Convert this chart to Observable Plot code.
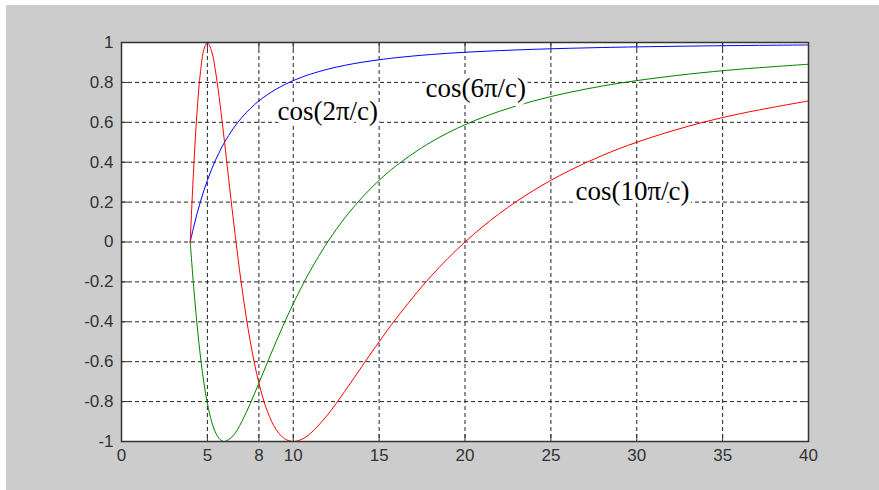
<!DOCTYPE html>
<html>
<head>
<meta charset="utf-8">
<script src="https://cdn.jsdelivr.net/npm/d3@7"></script>
<script src="https://cdn.jsdelivr.net/npm/@observablehq/plot@0.6"></script>
<style>
  html, body { margin: 0; padding: 0; background: #ffffff; }
  #chart { position: absolute; left: 6px; top: 5px; }
</style>
</head>
<body>
<div id="chart"></div>
<script>
const cValues = [4, 4.2, 4.4, 4.6, 4.8, 5, 5.25, 5.5, 5.75, 6, 6.5, 7, 7.5, 8, 8.5, 9, 9.5, 10, 10.5, 11, 12, 13, 14, 15, 16, 18, 20, 22, 24, 26, 28, 30, 33, 36, 40];
const blueValues = [0, 0.0747, 0.1423, 0.2035, 0.2588, 0.3090, 0.3653, 0.4154, 0.4601, 0.5, 0.5681, 0.6235, 0.6691, 0.7071, 0.7390, 0.7660, 0.7891, 0.8090, 0.8262, 0.8413, 0.8660, 0.8855, 0.9010, 0.9135, 0.9239, 0.9397, 0.9511, 0.9595, 0.9659, 0.9709, 0.9749, 0.9781, 0.9819, 0.9848, 0.9877];
const greenValues = [0, -0.2225, -0.4154, -0.5767, -0.7071, -0.8090, -0.9010, -0.9595, -0.9907, -1, -0.9709, -0.9010, -0.8090, -0.7071, -0.6026, -0.5, -0.4017, -0.3090, -0.2225, -0.1423, 0, 0.1205, 0.2225, 0.3090, 0.3827, 0.5, 0.5878, 0.6549, 0.7071, 0.7485, 0.7818, 0.8090, 0.8413, 0.8660, 0.8910];
const redValues = [0, 0.3653, 0.6549, 0.8544, 0.9659, 1, 0.9556, 0.8413, 0.6822, 0.5, 0.1205, -0.2225, -0.5, -0.7071, -0.8502, -0.9397, -0.9864, -1, -0.9888, -0.9595, -0.8660, -0.7485, -0.6235, -0.5, -0.3827, -0.1736, 0, 0.1423, 0.2588, 0.3546, 0.4339, 0.5, 0.5801, 0.6428, 0.7071];

const xTicks = [0, 5, 8, 10, 15, 20, 25, 30, 35, 40];
const yTicks = [-1, -0.8, -0.6, -0.4, -0.2, 0, 0.2, 0.4, 0.6, 0.8, 1];

const labelTexts = ["cos(2\u03C0/c)", "cos(6\u03C0/c)", "cos(10\u03C0/c)"];
const labelX = [9.08, 17.70, 26.43];
const labelY = [0.654, 0.769, 0.253];

const rows = cValues.map((c, i) => ({c, blue: blueValues[i], green: greenValues[i], red: redValues[i]}));
const labels = labelTexts.map((t, i) => ({t, x: labelX[i], y: labelY[i]}));

const W = 873, H = 485;
const mL = 115, mT = 37, mR = 71, mB = 49;
const innerH = H - mT - mB, innerW = W - mL - mR;
const tick = 7;
const axisColor = "#333333";
const fmt = d => String(+(+d).toFixed(1));

const plot = Plot.plot({
  width: W,
  height: H,
  marginLeft: mL,
  marginTop: mT,
  marginRight: mR,
  marginBottom: mB,
  style: {background: "#cccccc", fontFamily: "'Liberation Sans', Arial, sans-serif", color: axisColor},
  x: {domain: [0, 40], ticks: xTicks},
  y: {domain: [-1, 1], ticks: yTicks},
  marks: [
    Plot.frame({fill: "white", stroke: null}),
    Plot.gridX(xTicks, {stroke: "#222", strokeOpacity: 1, strokeDasharray: "4,3"}),
    Plot.gridY(yTicks, {stroke: "#222", strokeOpacity: 1, strokeDasharray: "4,3"}),
    Plot.ruleX(xTicks, {x: d => d, insetTop: innerH - tick, stroke: axisColor}),
    Plot.ruleX(xTicks, {x: d => d, insetBottom: innerH - tick, stroke: axisColor}),
    Plot.ruleY(yTicks, {y: d => d, insetRight: innerW - tick, stroke: axisColor}),
    Plot.ruleY(yTicks, {y: d => d, insetLeft: innerW - tick, stroke: axisColor}),
    Plot.axisX(xTicks, {tickSize: 0, tickPadding: 7, fontSize: 17, tickFormat: fmt, label: null, fill: axisColor}),
    Plot.axisY(yTicks, {tickSize: 0, tickPadding: 8, fontSize: 17, tickFormat: fmt, label: null, fill: axisColor}),
    Plot.line(rows, {x: "c", y: "blue", stroke: "#0000ff", strokeWidth: 1, curve: "catmull-rom"}),
    Plot.line(rows, {x: "c", y: "green", stroke: "#008000", strokeWidth: 1, curve: "catmull-rom"}),
    Plot.line(rows, {x: "c", y: "red", stroke: "#ff0000", strokeWidth: 1, curve: "catmull-rom"}),
    Plot.text(labels, {x: "x", y: "y", text: "t", textAnchor: "start", fontSize: 27, fontFamily: "'Liberation Serif', 'Times New Roman', serif", fill: "black", stroke: "white", strokeWidth: 8}),
    Plot.frame({stroke: axisColor, strokeWidth: 1.5})
  ]
});
document.getElementById("chart").appendChild(plot);
</script>
</body>
</html>
